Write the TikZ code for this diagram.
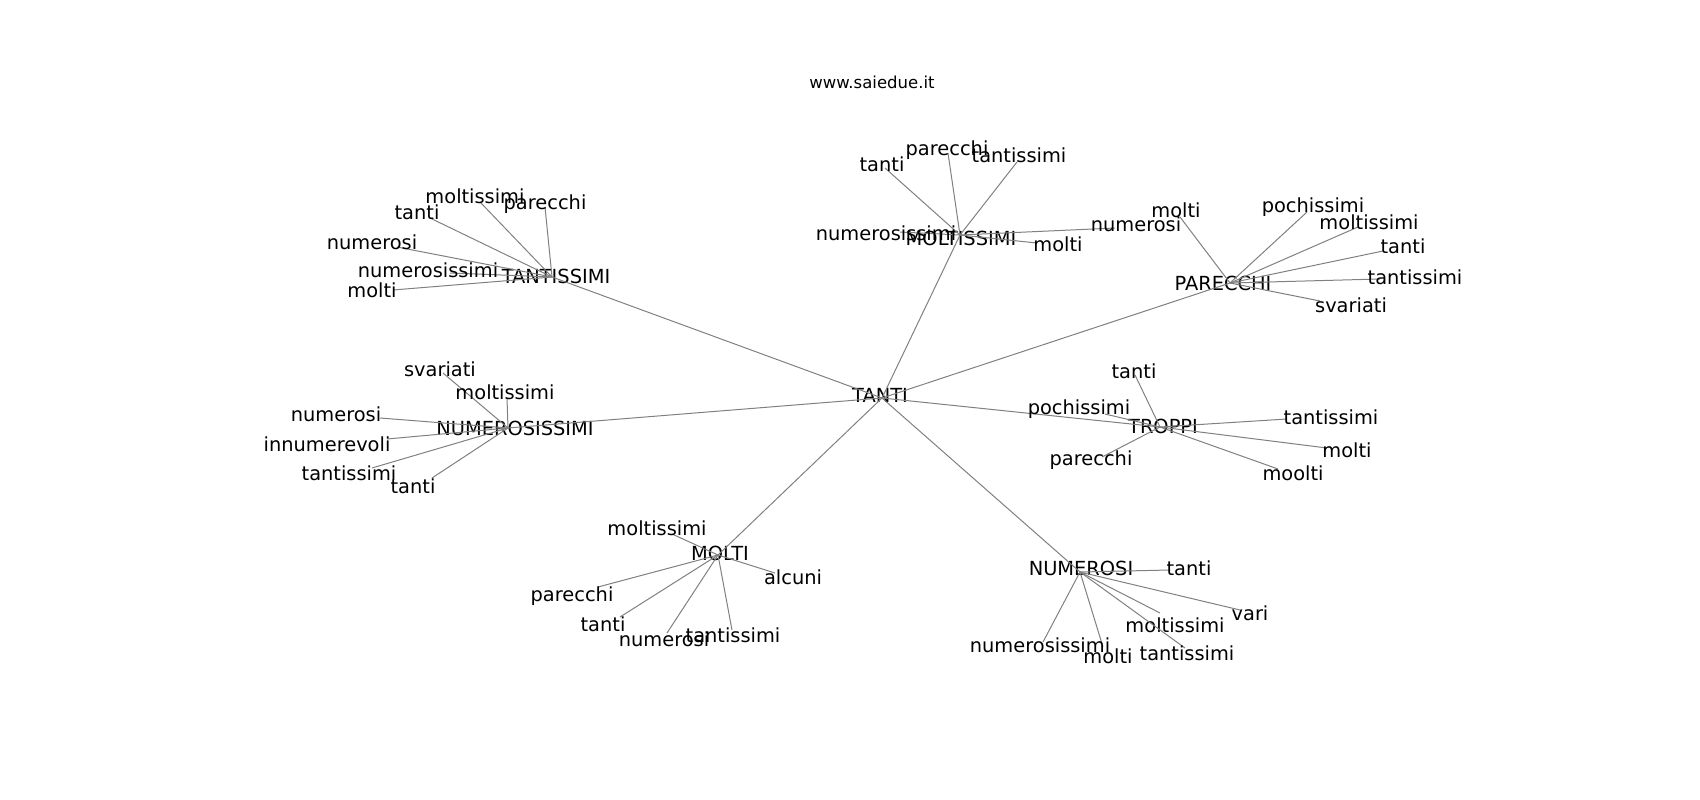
\documentclass[tikz,border=0pt]{standalone}
\usepackage{fontspec}
\setmainfont{DejaVu Sans}
\usetikzlibrary{positioning}

\begin{document}
\begin{tikzpicture}[x=1pt,y=-1pt,
  lbl/.style={inner sep=0pt,text height=0.76em,text depth=0pt,yshift=-4pt,font=\fontsize{19.4}{21}\selectfont},
  edge/.style={draw=black!50,line width=1pt}]

\newcommand{\myhub}[4]{% nom, point, etiquette, texte
\coordinate (#1) at (#2);
\node[lbl] (#1-l) at (#3) {#4};
}
\newcommand{\myleaf}[5]{% centre, nom, point, etiquette, texte
\coordinate (#2) at (#3);
\draw[edge] (#1) -- (#2);
\node[lbl] (#2-l) at (#4) {#5};
}

\useasboundingbox (0,0) rectangle (1700,800);

%titre
\node[inner sep=0pt,font=\fontsize{16.5}{18}\selectfont] (titre) at (872,82) {www.saiedue.it};

%centre
\myhub{tanti}{882,398}{880,395}{TANTI}
\myhub{ts}{552,277}{556,276}{TANTISSIMI}
\myhub{mts}{960,235}{961,238}{MOLTISSIMI}
\myhub{par}{1230,283}{1223,283}{PARECCHI}
\myhub{nms}{508,428}{515,428}{NUMEROSISSIMI}
\myhub{tr}{1160,427}{1163,426}{TROPPI}
\myhub{mo}{718,555}{720,553}{MOLTI}
\myhub{nu}{1080,572}{1081,568}{NUMEROSI}
\foreach \h in {ts,mts,par,nms,tr,mo,nu}
  \draw[edge] (tanti) -- (\h);

%tantissimi
\myleaf{ts}{ts-mts}{480,202}{475,196}{moltissimi}
\myleaf{ts}{ts-ta}{430,218}{417,212}{tanti}
\myleaf{ts}{ts-par}{545,207}{545,202}{parecchi}
\myleaf{ts}{ts-nu}{397,247}{372,242}{numerosi}
\myleaf{ts}{ts-nms}{450,273}{428,270}{numerosissimi}
\myleaf{ts}{ts-mo}{393,290}{372,290}{molti}

%moltissimi
\myleaf{mts}{mts-ta}{885,168}{882,164}{tanti}
\myleaf{mts}{mts-par}{948,153}{947,148}{parecchi}
\myleaf{mts}{mts-ts}{1017,162}{1019,155}{tantissimi}
\myleaf{mts}{mts-nms}{900,232}{886,233}{numerosissimi}
\myleaf{mts}{mts-mo}{1037,243}{1058,244}{molti}
\myleaf{mts}{mts-nu}{1115,228}{1136,224}{numerosi}

%parecchi
\myleaf{par}{par-mo}{1180,217}{1176,210}{molti}
\myleaf{par}{par-poc}{1307,212}{1313,205}{pochissimi}
\myleaf{par}{par-mts}{1358,227}{1369,222}{moltissimi}
\myleaf{par}{par-ta}{1383,251}{1403,246}{tanti}
\myleaf{par}{par-ts}{1380,279}{1415,277}{tantissimi}
\myleaf{par}{par-sv}{1320,301}{1351,305}{svariati}

%numerosissimi
\myleaf{nms}{nms-sv}{443,373}{440,369}{svariati}
\myleaf{nms}{nms-mts}{507,398}{505,392}{moltissimi}
\myleaf{nms}{nms-nu}{380,418}{336,414}{numerosi}
\myleaf{nms}{nms-inn}{387,439}{327,444}{innumerevoli}
\myleaf{nms}{nms-ts}{372,468}{349,473}{tantissimi}
\myleaf{nms}{nms-ta}{432,478}{413,486}{tanti}

%troppi
\myleaf{tr}{tr-ta}{1135,375}{1134,371}{tanti}
\myleaf{tr}{tr-poc}{1105,414}{1079,407}{pochissimi}
\myleaf{tr}{tr-par}{1102,457}{1091,458}{parecchi}
\myleaf{tr}{tr-ts}{1287,419}{1331,417}{tantissimi}
\myleaf{tr}{tr-mo}{1327,448}{1347,450}{molti}
\myleaf{tr}{tr-moo}{1278,469}{1293,473}{moolti}

%molti
\myleaf{mo}{mo-mts}{672,534}{657,528}{moltissimi}
\myleaf{mo}{mo-alc}{775,573}{793,577}{alcuni}
\myleaf{mo}{mo-par}{598,587}{572,594}{parecchi}
\myleaf{mo}{mo-ta}{620,617}{603,624}{tanti}
\myleaf{mo}{mo-nu}{667,633}{664,639}{numerosi}
\myleaf{mo}{mo-ts}{732,630}{733,635}{tantissimi}

%numerosi
\myleaf{nu}{nu-ta}{1170,570}{1189,568}{tanti}
\myleaf{nu}{nu-va}{1240,610}{1250,613}{vari}
\myleaf{nu}{nu-mts}{1160,613}{1175,625}{moltissimi}
\myleaf{nu}{nu-ts}{1185,648}{1187,653}{tantissimi}
\myleaf{nu}{nu-mo}{1103,647}{1108,656}{molti}
\myleaf{nu}{nu-nms}{1043,642}{1040,645}{numerosissimi}

\end{tikzpicture}
\end{document}
